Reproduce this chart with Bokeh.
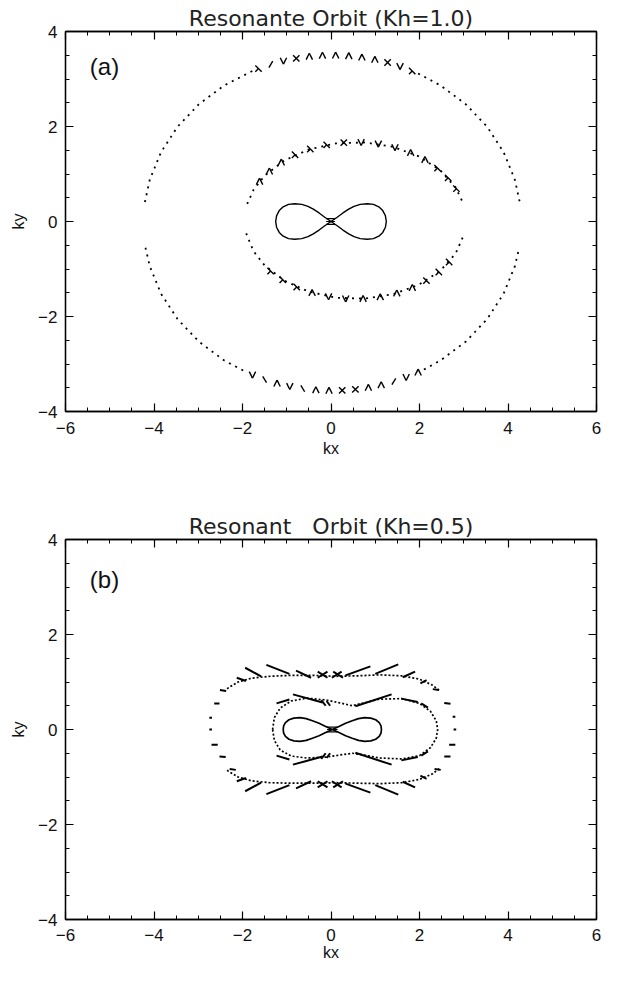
from bokeh.plotting import figure
from bokeh.layouts import column
from bokeh.models import FixedTicker, LinearAxis, Label, Range1d, CustomJSTickFormatter
from bokeh.embed import file_html
from bokeh.resources import INLINE

# ---------------- axes ----------------
x_ticks = [-6, -4, -2, 0, 2, 4, 6]
x_tick_labels = ["−6", "−4", "−2", "0", "2", "4", "6"]
y_ticks = [-4, -2, 0, 2, 4]
y_tick_labels = ["−4", "−2", "0", "2", "4"]
x_minor = [-5.5, -5, -4.5, -3.5, -3, -2.5, -1.5, -1, -0.5, 0.5, 1, 1.5, 2.5, 3, 3.5, 4.5, 5, 5.5]
y_minor = [-3.5, -3, -2.5, -1.5, -1, -0.5, 0.5, 1, 1.5, 2.5, 3, 3.5]

title_a = "Resonante Orbit (Kh=1.0)"
title_b = "Resonant\u00a0\u00a0\u00a0Orbit (Kh=0.5)"

# ---------------- panel (a) data ----------------
# outer orbit, dotted parts
a_out_ul_x = [-4.206, -4.094, -3.840, -3.468, -2.989, -2.419, -1.775]
a_out_ul_y = [0.41, 0.884, 1.462, 1.995, 2.466, 2.862, 3.169]
a_out_ur_x = [1.969, 2.479, 3.049, 3.528, 3.900, 4.154, 4.266]
a_out_ur_y = [3.115, 2.862, 2.466, 1.995, 1.462, 0.884, 0.41]
a_out_ll_x = [-4.193, -4.094, -3.840, -3.468, -2.989, -2.419, -1.909]
a_out_ll_y = [-0.552, -0.944, -1.522, -2.055, -2.526, -2.922, -3.175]
a_out_lr_x = [2.100, 2.479, 3.049, 3.528, 3.900, 4.154, 4.253]
a_out_lr_y = [-3.117, -2.922, -2.526, -2.055, -1.522, -0.944, -0.552]
# outer orbit, marks
a_out_top_mx = [-1.638, -1.36, -1.075, -0.785, -0.49, -0.193, 0.105, 0.402, 0.698, 0.991, 1.279, 1.560, 1.835]
a_out_top_my = [3.219, 3.308, 3.380, 3.435, 3.474, 3.495, 3.499, 3.487, 3.457, 3.410, 3.346, 3.266, 3.169]
a_out_top_kind = ["λ", "/", "v", "x", "^", "^", "^", "^", "^", "^", "x", "v", "λ"]
a_out_bot_mx = [-1.775, -1.50, -1.219, -0.931, -0.638, -0.342, -0.045, 0.253, 0.551, 0.845, 1.135, 1.420, 1.698, 1.969]
a_out_bot_my = [-3.229, -3.326, -3.406, -3.470, -3.517, -3.547, -3.559, -3.555, -3.534, -3.495, -3.440, -3.368, -3.279, -3.175]
a_out_bot_kind = ["v", "\\", "^", "v", "\\", "^", "^", "x", "x", "^", "^", "/", "v", "^"]
# inner orbit, dotted
a_in_up_x = [-1.894, -1.751, -1.498, -1.057, -0.507, 0.116, 0.768, 1.405, 1.984, 2.465, 2.816, 2.994]
a_in_up_y = [0.369, 0.665, 0.966, 1.284, 1.515, 1.645, 1.664, 1.571, 1.372, 1.081, 0.717, 0.369]
a_in_lo_x = [-1.917, -1.751, -1.498, -1.057, -0.507, 0.116, 0.768, 1.405, 1.984, 2.465, 2.816, 3.017]
a_in_lo_y = [-0.249, -0.625, -0.926, -1.244, -1.475, -1.605, -1.624, -1.531, -1.332, -1.041, -0.677, -0.249]
# inner orbit, marks
a_in_top_mx = [-1.615, -1.393, -1.123, -0.812, -0.467, -0.097, 0.289, 0.681, 1.070, 1.446, 1.80, 2.123, 2.408, 2.647, 2.834]
a_in_top_my = [0.845, 1.058, 1.246, 1.404, 1.527, 1.614, 1.661, 1.668, 1.634, 1.560, 1.449, 1.302, 1.124, 0.919, 0.691]
a_in_top_kind = ["^", "^", "^", "λ", "λ", "λ", "x", "v", "v", "v", "^", "^", "λ", "λ", "λ"]
a_in_bot_mx = [2.67, 2.437, 2.157, 1.838, 1.487, 1.113, 0.725, 0.332, -0.055, -0.427, -0.775, -1.09, -1.365]
a_in_bot_my = [-0.854, -1.063, -1.244, -1.394, -1.510, -1.588, -1.626, -1.624, -1.581, -1.499, -1.379, -1.225, -1.041]
a_in_bot_kind = ["λ", "λ", "λ", "^", "^", "^", "^", "v", "v", "^", "λ", "λ", "λ"]
# figure-eight orbit
a_eight_x = [0, 0.14, 0.27, 0.40, 0.52, 0.66, 0.82, 0.96, 1.08, 1.17, 1.23, 1.25,
             1.23, 1.17, 1.08, 0.96, 0.82, 0.66, 0.52, 0.40, 0.27, 0.14, 0,
             -0.14, -0.27, -0.40, -0.52, -0.66, -0.82, -0.96, -1.08, -1.17, -1.23, -1.25,
             -1.23, -1.17, -1.08, -0.96, -0.82, -0.66, -0.52, -0.40, -0.27, -0.14, 0]
a_eight_y = [0, 0.09, 0.18, 0.26, 0.32, 0.36, 0.375, 0.36, 0.31, 0.23, 0.12, 0,
             -0.12, -0.23, -0.31, -0.36, -0.375, -0.36, -0.32, -0.26, -0.18, -0.09, 0,
             0.09, 0.18, 0.26, 0.32, 0.36, 0.375, 0.36, 0.31, 0.23, 0.12, 0,
             -0.12, -0.23, -0.31, -0.36, -0.375, -0.36, -0.32, -0.26, -0.18, -0.09, 0]
a_cross_x0 = [-0.11, -0.11, -0.11]
a_cross_x1 = [0.09, 0.09, 0.09]
a_cross_y = [0.06, 0.0, -0.06]

# ---------------- panel (b) data ----------------
b_out_up_x = [-2.35, -2.1, -1.8, -1.4, -0.9, -0.4, 0.1, 0.6, 1.1, 1.6, 2.0, 2.3, 2.45]
b_out_up_y = [0.86, 1.0, 1.08, 1.12, 1.14, 1.14, 1.12, 1.13, 1.15, 1.13, 1.06, 0.93, 0.82]
b_out_lo_x = [-2.35, -2.1, -1.8, -1.4, -0.9, -0.4, 0.1, 0.6, 1.1, 1.6, 2.0, 2.3, 2.45]
b_out_lo_y = [-0.86, -1.0, -1.08, -1.12, -1.13, -1.13, -1.12, -1.13, -1.14, -1.12, -1.05, -0.93, -0.82]
b_in_x = [-1.32, -1.28, -1.15, -0.9, -0.55, -0.1, 0.25, 0.48, 0.7, 1.1, 1.6, 2.0, 2.25, 2.38, 2.41,
          2.38, 2.25, 2.0, 1.6, 1.1, 0.7, 0.48, 0.25, -0.1, -0.55, -0.9, -1.15, -1.28, -1.32]
b_in_y = [0.0, 0.25, 0.45, 0.6, 0.66, 0.62, 0.55, 0.5, 0.55, 0.64, 0.65, 0.55, 0.38, 0.18, 0.0,
          -0.18, -0.38, -0.55, -0.62, -0.6, -0.53, -0.5, -0.53, -0.58, -0.6, -0.56, -0.43, -0.23, 0.0]
b_eight_x = [0.03, 0.18, 0.33, 0.48, 0.62, 0.76, 0.90, 1.01, 1.09, 1.13, 1.14,
             1.13, 1.09, 1.01, 0.90, 0.76, 0.62, 0.48, 0.33, 0.18, 0.03,
             -0.12, -0.27, -0.42, -0.56, -0.70, -0.84, -0.95, -1.03, -1.07, -1.08,
             -1.07, -1.03, -0.95, -0.84, -0.70, -0.56, -0.42, -0.27, -0.12, 0.03]
b_eight_y = [0, 0.065, 0.13, 0.185, 0.23, 0.25, 0.24, 0.205, 0.145, 0.075, 0,
             -0.075, -0.145, -0.205, -0.24, -0.25, -0.23, -0.185, -0.13, -0.065, 0,
             0.065, 0.13, 0.185, 0.23, 0.25, 0.24, 0.205, 0.145, 0.075, 0,
             -0.075, -0.145, -0.205, -0.24, -0.25, -0.23, -0.185, -0.13, -0.065, 0]
b_cross_x0 = [-0.09, -0.09, -0.09]
b_cross_x1 = [0.15, 0.15, 0.15]
b_cross_y = [0.05, 0.0, -0.05]
# direction dashes (start / end points)
b_seg_x0 = [-2.13, -1.94, -1.46, -0.79, -0.30, -0.30, 0.02, 0.05, 0.33, 1.00, 1.62, 2.02,
            -2.13, -1.94, -1.46, -0.79, -0.30, -0.30, 0.02, 0.05, 0.33, 1.00, 1.62, 2.02,
            -2.51, -2.64, -2.75, -2.75, -2.70, -2.52, -2.29,
            2.30, 2.56, 2.75, 2.77, 2.67, 2.56, 2.34,
            -1.23, -0.86, -0.22, -0.10, 0.55, 1.59, 2.04,
            -1.23, -0.86, -0.22, -0.10, 0.55, 1.59, 2.04]
b_seg_y0 = [1.09, 1.30, 1.36, 1.24, 1.22, 1.09, 1.09, 1.22, 1.14, 1.17, 1.10, 0.97,
            -1.09, -1.30, -1.36, -1.24, -1.22, -1.09, -1.09, -1.22, -1.14, -1.17, -1.10, -0.97,
            0.83, 0.55, 0.25, 0.0, -0.32, -0.57, -0.83,
            0.85, 0.56, 0.27, 0.0, -0.32, -0.57, -0.83,
            0.55, 0.74, 0.62, 0.60, 0.49, 0.65, 0.55,
            -0.55, -0.74, -0.62, -0.60, -0.49, -0.65, -0.55]
b_seg_x1 = [-1.92, -1.58, -0.94, -0.45, -0.08, -0.08, 0.24, 0.27, 0.89, 1.52, 1.90, 2.16,
            -1.92, -1.58, -0.94, -0.45, -0.08, -0.08, 0.24, 0.27, 0.89, 1.52, 1.90, 2.16,
            -2.37, -2.52, -2.69, -2.69, -2.56, -2.38, -2.15,
            2.44, 2.70, 2.81, 2.83, 2.81, 2.70, 2.48,
            -0.94, -0.19, -0.12, -0.02, 1.37, 1.96, 2.19,
            -0.94, -0.19, -0.12, -0.02, 1.37, 1.96, 2.19]
b_seg_y1 = [1.02, 1.12, 1.17, 1.09, 1.09, 1.22, 1.22, 1.09, 1.33, 1.37, 1.22, 1.04,
            -1.02, -1.12, -1.17, -1.09, -1.09, -1.22, -1.22, -1.09, -1.33, -1.37, -1.22, -1.04,
            0.81, 0.55, 0.25, 0.0, -0.32, -0.58, -0.85,
            0.83, 0.54, 0.27, 0.0, -0.32, -0.57, -0.85,
            0.63, 0.57, 0.50, 0.50, 0.74, 0.58, 0.46,
            -0.63, -0.57, -0.50, -0.50, -0.74, -0.58, -0.46]

# ---------------- helpers ----------------
STROKES = {
    "^": [(-1, -1, 0, 1), (0, 1, 1, -1)],
    "v": [(-1, 1, 0, -1), (0, -1, 1, 1)],
    "x": [(-1, -1, 1, 1), (-1, 1, 1, -1)],
    "λ": [(-1, 1, 1, -1), (0, 0, -1, -1)],
    "/": [(-0.6, -1, 0.6, 1)],
    "\\": [(-0.6, 1, 0.6, -1)],
}


def draw_marks(p, cx, cy, kinds, sx, sy, h=3.2):
    x0, y0, x1, y1 = [], [], [], []
    for x, y, k in zip(cx, cy, kinds):
        for a, b, c, d in STROKES[k]:
            x0.append(x + a * h / sx)
            y0.append(y + b * h / sy)
            x1.append(x + c * h / sx)
            y1.append(y + d * h / sy)
    p.segment(x0, y0, x1, y1, line_color="black", line_width=1.4)


def style_axis(ax, ticks, labels, minor, show):
    ax.ticker = FixedTicker(ticks=ticks, minor_ticks=minor)
    ax.major_tick_in = 8
    ax.major_tick_out = 0
    ax.minor_tick_in = 4
    ax.minor_tick_out = 0
    ax.axis_line_color = "black"
    ax.axis_line_width = 1.3
    ax.major_tick_line_color = "black"
    ax.major_tick_line_width = 1.2
    ax.minor_tick_line_color = "black"
    ax.minor_tick_line_width = 1
    if show:
        ax.major_label_overrides = dict(zip(ticks, labels))
        ax.major_label_text_font = "Liberation Sans"
        ax.major_label_text_font_size = "17px"
        ax.major_label_text_color = "#111111"
        ax.axis_label_text_font = "Liberation Sans"
        ax.axis_label_text_font_size = "16px"
        ax.axis_label_text_font_style = "normal"
        ax.axis_label_text_color = "#111111"
    else:
        ax.formatter = CustomJSTickFormatter(code="return ''")
        ax.major_label_text_font_size = "0px"
        ax.major_label_standoff = 0


def make_panel(title, height, left, right, top, bottom, xstand, xlabstand):
    p = figure(width=602, height=height, output_backend="svg", toolbar_location=None,
               x_range=Range1d(-6, 6), y_range=Range1d(-4, 4),
               min_border_left=left, min_border_right=right,
               min_border_top=top, min_border_bottom=bottom)
    p.grid.visible = False
    p.outline_line_color = "black"
    p.outline_line_width = 1.3
    p.background_fill_color = "white"
    p.border_fill_color = "white"
    p.title.text = title
    p.title.align = "center"
    p.title.text_font = "DejaVu Sans"
    p.title.text_font_size = "22px"
    p.title.text_font_style = "normal"
    p.title.text_color = "#222222"
    p.title.standoff = 1
    style_axis(p.xaxis[0], x_ticks, x_tick_labels, x_minor, True)
    style_axis(p.yaxis[0], y_ticks, y_tick_labels, y_minor, True)
    p.xaxis[0].axis_label = "kx"
    p.yaxis[0].axis_label = "ky"
    p.xaxis[0].major_label_standoff = xstand
    p.xaxis[0].axis_label_standoff = xlabstand
    p.yaxis[0].major_label_standoff = 8
    p.yaxis[0].axis_label_standoff = 8
    top_ax = LinearAxis()
    right_ax = LinearAxis()
    style_axis(top_ax, x_ticks, x_tick_labels, x_minor, False)
    style_axis(right_ax, y_ticks, y_tick_labels, y_minor, False)
    p.add_layout(top_ax, "above")
    p.add_layout(right_ax, "right")
    return p


# ---------------- panel (a) ----------------
pa = make_panel(title_a, 462, 64, 6, 31, 51, 10, 3)
sxa, sya = 532 / 12, 380 / 8
dot_a = dict(line_color="black", line_width=1.8, line_dash="2 5")
pa.line(a_out_ul_x, a_out_ul_y, **dot_a)
pa.line(a_out_ur_x, a_out_ur_y, **dot_a)
pa.line(a_out_ll_x, a_out_ll_y, **dot_a)
pa.line(a_out_lr_x, a_out_lr_y, **dot_a)
pa.line(a_in_up_x, a_in_up_y, **dot_a)
pa.line(a_in_lo_x, a_in_lo_y, **dot_a)
draw_marks(pa, a_out_top_mx, a_out_top_my, a_out_top_kind, sxa, sya)
draw_marks(pa, a_out_bot_mx, a_out_bot_my, a_out_bot_kind, sxa, sya)
draw_marks(pa, a_in_top_mx, a_in_top_my, a_in_top_kind, sxa, sya)
draw_marks(pa, a_in_bot_mx, a_in_bot_my, a_in_bot_kind, sxa, sya)
pa.line(a_eight_x, a_eight_y, line_color="black", line_width=1.4)
pa.segment(a_cross_x0, a_cross_y, a_cross_x1, a_cross_y, line_color="black", line_width=1.2)
pa.add_layout(Label(x=-5.45, y=3.26, text="(a)", text_font="Liberation Sans",
                    text_font_size="24px", text_baseline="middle", text_align="left",
                    text_color="#111111"))

# ---------------- panel (b) ----------------
pb = make_panel(title_b, 504, 65, 1, 77, 47, 9, 0)
dot_b = dict(line_color="black", line_width=1.7, line_dash="2 2")
pb.line(b_out_up_x, b_out_up_y, **dot_b)
pb.line(b_out_lo_x, b_out_lo_y, **dot_b)
pb.line(b_in_x, b_in_y, **dot_b)
pb.segment(b_seg_x0, b_seg_y0, b_seg_x1, b_seg_y1, line_color="black", line_width=2.0)
pb.line(b_eight_x, b_eight_y, line_color="black", line_width=1.7)
pb.segment(b_cross_x0, b_cross_y, b_cross_x1, b_cross_y, line_color="black", line_width=1.2)
pb.add_layout(Label(x=-5.45, y=3.15, text="(b)", text_font="Liberation Sans",
                    text_font_size="24px", text_baseline="middle", text_align="left",
                    text_color="#111111"))

layout = column(pa, pb)
open("out.html", "w").write(file_html(layout, INLINE))
